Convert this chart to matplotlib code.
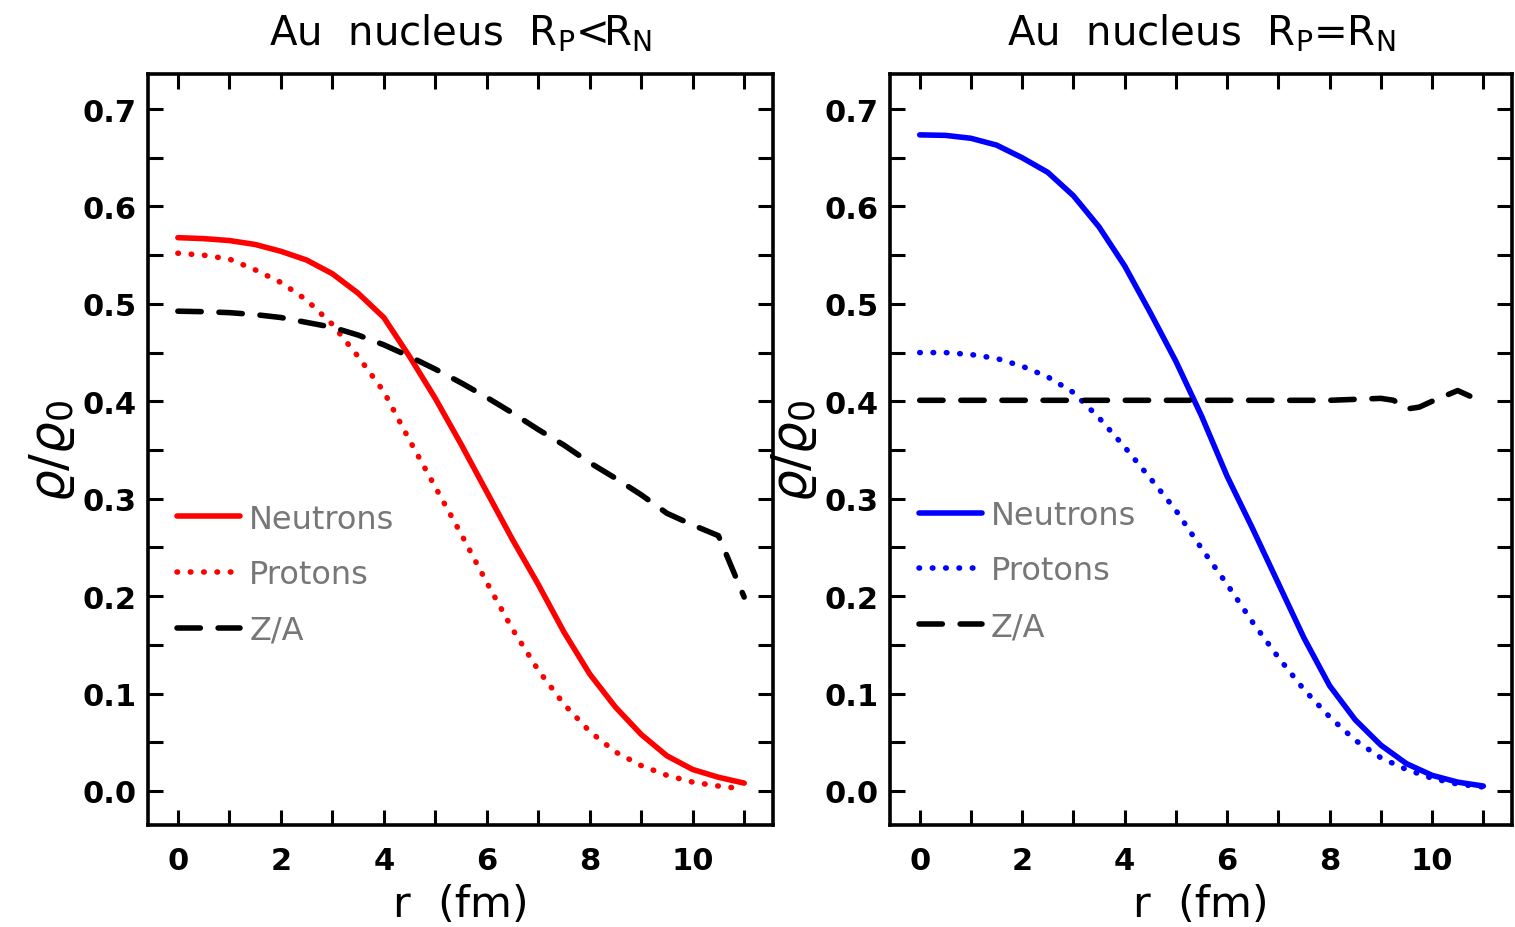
import matplotlib
matplotlib.use("Agg")
import matplotlib.pyplot as plt
from matplotlib.ticker import MultipleLocator, FuncFormatter

# ---------------- data ----------------
r_grid = [0, 0.5, 1, 1.5, 2, 2.5, 3, 3.5, 4, 4.5, 5, 5.5, 6, 6.5, 7, 7.5,
          8, 8.5, 9, 9.5, 10, 10.5, 11]

left_neutrons = [0.568, 0.567, 0.565, 0.561, 0.554, 0.545, 0.531, 0.511, 0.486,
                 0.446, 0.403, 0.356, 0.307, 0.258, 0.212, 0.163, 0.120, 0.086,
                 0.058, 0.036, 0.022, 0.014, 0.008]
left_protons = [0.552, 0.550, 0.546, 0.535, 0.522, 0.504, 0.479, 0.446, 0.410,
                0.360, 0.312, 0.264, 0.214, 0.166, 0.124, 0.089, 0.061, 0.040,
                0.026, 0.016, 0.009, 0.005, 0.002]
left_za = [0.4925, 0.492, 0.491, 0.489, 0.486, 0.481, 0.476, 0.468, 0.458,
           0.446, 0.433, 0.419, 0.404, 0.388, 0.371, 0.355, 0.337, 0.321,
           0.304, 0.285, 0.273, 0.262, 0.199]

right_neutrons = [0.6735, 0.673, 0.670, 0.663, 0.650, 0.635, 0.611, 0.579, 0.539,
                  0.491, 0.441, 0.385, 0.323, 0.269, 0.213, 0.157, 0.108, 0.073,
                  0.047, 0.028, 0.016, 0.009, 0.005]
right_protons = [0.450, 0.450, 0.448, 0.444, 0.436, 0.425, 0.409, 0.383, 0.353,
                 0.321, 0.288, 0.249, 0.212, 0.173, 0.137, 0.104, 0.076, 0.052,
                 0.034, 0.022, 0.013, 0.007, 0.004]
right_za_r = [0, 1, 2, 3, 4, 5, 6, 7, 8, 8.5, 9, 9.25, 9.5, 9.75, 10, 10.5, 11]
right_za = [0.401, 0.401, 0.401, 0.401, 0.401, 0.401, 0.401, 0.401, 0.401,
            0.402, 0.403, 0.401, 0.392, 0.394, 0.400, 0.411, 0.399]

titles = [r"Au  nucleus  R$_\mathregular{P}$<R$_\mathregular{N}$",
          r"Au  nucleus  R$_\mathregular{P}$=R$_\mathregular{N}$"]
labels = ["Neutrons", "Protons", "Z/A"]
colors = ["red", "blue"]

# ---------------- figure ----------------
plt.rcParams['font.family'] = ['DejaVu Sans']
plt.rcParams['mathtext.fontset'] = 'dejavusans'

fig = plt.figure(figsize=(15.15, 9.28), dpi=100)
W, H = 1515, 928
boxes = [(148, 75, 773, 826), (890, 75, 1512, 826)]

panels = [
    (r_grid, left_neutrons, r_grid, left_protons, r_grid, left_za),
    (r_grid, right_neutrons, r_grid, right_protons, right_za_r, right_za),
]

lw = 4.0
for i, (x0, y0, x1, y1) in enumerate(boxes):
    ax = fig.add_axes([x0 / W, 1 - y1 / H, (x1 - x0) / W, (y1 - y0) / H])
    rn, n, rp, p, rz, z = panels[i]
    c = colors[i]
    ax.plot(rn, n, color=c, lw=lw, solid_capstyle='round', label=labels[0])
    ax.plot(rp, p, color=c, lw=lw, linestyle=(0, (0.1, 2.3)),
            dash_capstyle='round', label=labels[1])
    ax.plot(rz, z, color='black', lw=lw, linestyle=(0, (4.2, 3.2)),
            dash_capstyle='round', label=labels[2])

    ax.set_xlim(-0.58, 11.56)
    ax.set_ylim(-0.035, 0.736)
    ax.xaxis.set_major_locator(MultipleLocator(1))
    ax.yaxis.set_major_locator(MultipleLocator(0.05))
    ax.xaxis.set_major_formatter(FuncFormatter(
        lambda v, pos: f"{int(round(v))}" if int(round(v)) % 2 == 0 else ""))
    ax.yaxis.set_major_formatter(FuncFormatter(
        lambda v, pos: f"{v:.1f}" if abs(round(v * 20)) % 2 == 0 else ""))
    ax.tick_params(direction='in', length=11, width=2.2, top=True, right=True,
                   labelsize=22)
    ax.tick_params(axis='y', pad=8)
    ax.tick_params(axis='x', pad=15)
    for lab in ax.get_xticklabels() + ax.get_yticklabels():
        lab.set_fontweight('bold')
    for s in ax.spines.values():
        s.set_linewidth(2.6)

    ax.set_title(titles[i], fontsize=29, pad=21)
    ax.set_xlabel("r  (fm)", fontsize=31, labelpad=6)
    ax.set_ylabel(r"$\varrho/\varrho_0$", fontsize=36, labelpad=4)

    leg = ax.legend(loc='upper left',
                    bbox_to_anchor=(0.047, 0.428 if i == 0 else 0.433),
                    frameon=False, fontsize=23, handlelength=1.95,
                    handletextpad=0.3, labelspacing=0.77, borderaxespad=0,
                    borderpad=0)
    for t in leg.get_texts():
        t.set_color('#777777')

fig.savefig("out.png", dpi=100)
